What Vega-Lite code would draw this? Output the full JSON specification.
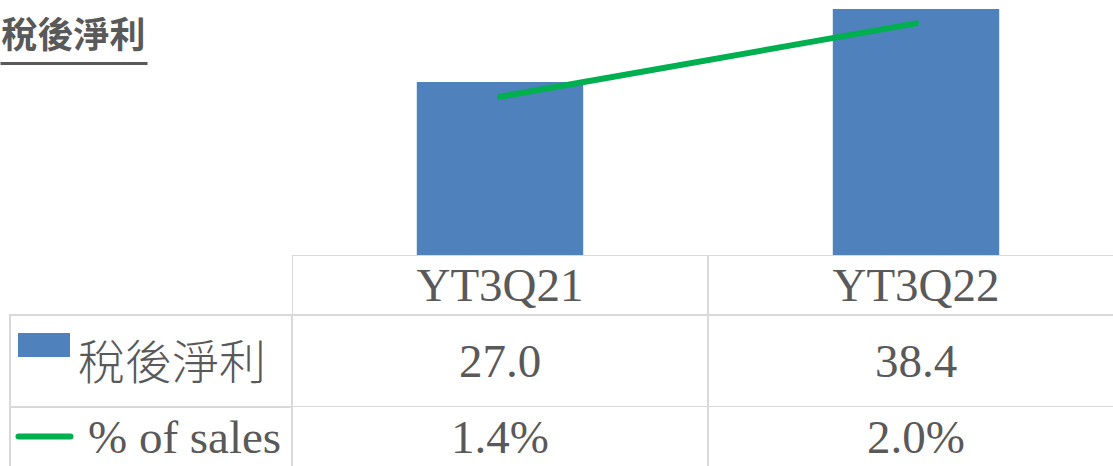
{
  "$schema": "https://vega.github.io/schema/vega-lite/v6.json",
  "padding": 0,
  "autosize": {"type": "pad"},
  "background": "white",
  "spacing": 0,
  "bounds": "flush",
  "columns": 2,
  "config": {"view": {"stroke": null}, "font": "Liberation Serif", "concat": {"spacing": 0}},
  "datasets": {
    "periods": [
      {"period": "YT3Q21", "profit": 27.0, "pct": 0.014},
      {"period": "YT3Q22", "profit": 38.4, "pct": 0.020}
    ],
    "series": [
      {"series": "稅後淨利", "row": "profit"},
      {"series": "% of sales", "row": "pct"}
    ],
    "heading": [{"heading": "稅後淨利"}]
  },
  "concat": [
    {
      "width": 147, "height": 63,
      "data": {"name": "heading"},
      "mark": {"type": "text", "font": "Noto Sans CJK TC", "fontSize": 36, "fontWeight": "bold", "color": "#595959", "dy": 5},
      "encoding": {
        "x": {"field": "heading", "type": "nominal", "scale": {"paddingInner": 0, "paddingOuter": 0},
              "axis": {"domain": true, "domainColor": "#595959", "domainWidth": 3, "ticks": false, "labels": false, "title": null, "grid": false}},
        "text": {"field": "heading"}
      }
    },
    {
      "width": 821, "height": 255,
      "data": {"name": "periods"},
      "encoding": {
        "x": {"field": "period", "type": "nominal", "sort": null, "scale": {"range": [0, 832], "paddingInner": 0, "paddingOuter": 0}, "axis": null}
      },
      "layer": [
        {
          "mark": {"type": "bar", "color": "#4F81BD", "width": {"band": 0.4}},
          "encoding": {"y": {"field": "profit", "type": "quantitative", "scale": {"domain": [0, 39.8], "nice": false}, "axis": null}}
        },
        {
          "mark": {"type": "line", "color": "#00B050", "strokeWidth": 6, "strokeCap": "round"},
          "encoding": {"y": {"field": "pct", "type": "quantitative", "scale": {"domain": [0.00106, 0.02191], "nice": false, "zero": false}, "axis": null}}
        }
      ],
      "resolve": {"scale": {"y": "independent"}}
    },
    {
      "width": 292, "height": 60,
      "data": {"values": [{}]},
      "mark": {"type": "text", "text": ""}
    },
    {
      "width": 821, "height": 60,
      "data": {"name": "periods"},
      "encoding": {
        "x": {"field": "period", "type": "nominal", "sort": null, "scale": {"range": [0, 832], "paddingInner": 0, "paddingOuter": 0}, "axis": null}
      },
      "layer": [
        {"mark": {"type": "rect", "fill": "white", "stroke": "#D9D9D9", "strokeWidth": 2, "clip": true}},
        {"mark": {"type": "text", "fontSize": 47, "color": "#595959", "font": "Liberation Serif", "dy": 2}, "encoding": {"text": {"field": "period"}}}
      ]
    },
    {
      "width": 292, "height": 92,
      "data": {"name": "series"},
      "transform": [{"filter": "datum.row === 'profit'"}],
      "encoding": {
        "x": {"field": "series", "type": "nominal", "scale": {"paddingInner": 0, "paddingOuter": 0.01773, "align": 1}, "axis": null}
      },
      "layer": [
        {"mark": {"type": "rect", "fill": "white", "stroke": "#D9D9D9", "strokeWidth": 2}},
        {"mark": {"type": "point", "shape": "M-1,-0.4615H1V0.4615H-1Z", "size": 2704, "filled": true, "color": "#4F81BD", "opacity": 1, "strokeWidth": 0, "xOffset": 34, "yOffset": -16},
         "encoding": {"x": {"field": "series", "type": "nominal", "bandPosition": 0}}},
        {"mark": {"type": "text", "align": "left", "fontSize": 47, "font": "Noto Sans CJK TC", "fontWeight": 300, "color": "#595959", "dx": 68, "dy": 4},
         "encoding": {"x": {"field": "series", "type": "nominal", "bandPosition": 0}, "text": {"field": "series"}}}
      ]
    },
    {
      "width": 821, "height": 92,
      "data": {"name": "periods"},
      "encoding": {
        "x": {"field": "period", "type": "nominal", "sort": null, "scale": {"range": [0, 832], "paddingInner": 0, "paddingOuter": 0}, "axis": null}
      },
      "layer": [
        {"mark": {"type": "rect", "fill": "white", "stroke": "#D9D9D9", "strokeWidth": 2, "clip": true}},
        {"mark": {"type": "text", "fontSize": 47, "color": "#595959", "font": "Liberation Serif", "dy": 2}, "encoding": {"text": {"field": "profit", "type": "quantitative", "format": ".1f"}}}
      ]
    },
    {
      "width": 292, "height": 59,
      "data": {"name": "series"},
      "transform": [{"filter": "datum.row === 'pct'"}],
      "encoding": {
        "x": {"field": "series", "type": "nominal", "scale": {"paddingInner": 0, "paddingOuter": 0.01773, "align": 1}, "axis": null}
      },
      "layer": [
        {"mark": {"type": "rule", "color": "#D9D9D9", "strokeWidth": 2}, "encoding": {"x": {"field": "series", "type": "nominal", "bandPosition": 0}}},
        {"mark": {"type": "point", "shape": "M-1,0H1", "size": 2704, "filled": false, "stroke": "#00B050", "opacity": 1, "strokeWidth": 6, "strokeCap": "round", "xOffset": 34.5},
         "encoding": {"x": {"field": "series", "type": "nominal", "bandPosition": 0}}},
        {"mark": {"type": "text", "align": "left", "fontSize": 47, "font": "Liberation Serif", "color": "#595959", "dx": 78, "dy": 2},
         "encoding": {"x": {"field": "series", "type": "nominal", "bandPosition": 0}, "text": {"field": "series"}}}
      ]
    },
    {
      "width": 821, "height": 59,
      "data": {"name": "periods"},
      "encoding": {
        "x": {"field": "period", "type": "nominal", "sort": null, "scale": {"range": [0, 832], "paddingInner": 0, "paddingOuter": 0}, "axis": null}
      },
      "layer": [
        {"mark": {"type": "rule", "color": "#D9D9D9", "strokeWidth": 2}, "encoding": {"x": {"field": "period", "type": "nominal", "sort": null, "bandPosition": 0}}},
        {"mark": {"type": "text", "fontSize": 47, "color": "#595959", "font": "Liberation Serif", "dy": 2}, "encoding": {"text": {"field": "pct", "type": "quantitative", "format": ".1%"}}}
      ]
    }
  ]
}
